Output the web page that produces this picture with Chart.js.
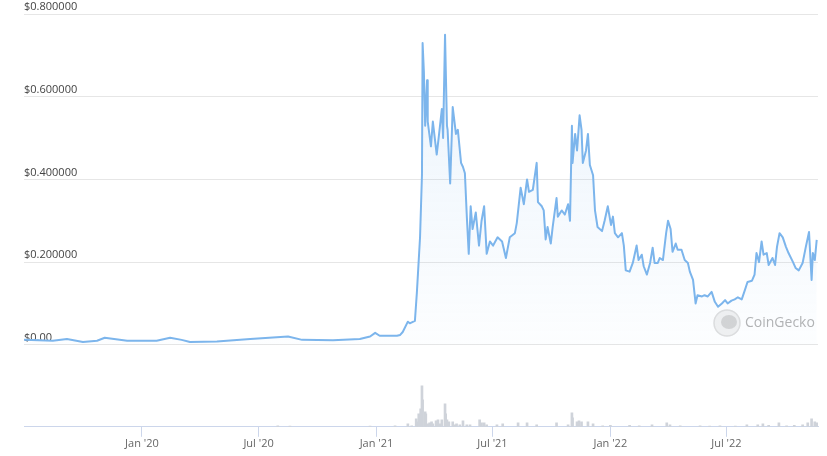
<!DOCTYPE html>
<html>
<head>
<meta charset="utf-8">
<script src="https://cdn.jsdelivr.net/npm/chart.js@4.4.1/dist/chart.umd.min.js"></script>
<style>
  html, body { margin: 0; padding: 0; background: #fff; }
  #wrap { width: 827px; height: 456px; }
</style>
</head>
<body>
<div id="wrap"><canvas id="priceChart"></canvas></div>
<script>
// Price (USD)
const priceDates = [
  '2019-07-01', '2019-08-15', '2019-09-06', '2019-10-01', '2019-10-23', '2019-11-04', '2019-12-09',
  '2020-01-24', '2020-02-14', '2020-03-03', '2020-03-16', '2020-04-27', '2020-06-18', '2020-08-16',
  '2020-09-07', '2020-10-25', '2020-12-06', '2020-12-22', '2020-12-30',
  '2021-01-06', '2021-02-02', '2021-02-07', '2021-02-11', '2021-02-19', '2021-02-22', '2021-03-02',
  '2021-03-05', '2021-03-10', '2021-03-13', '2021-03-14', '2021-03-16', '2021-03-18', '2021-03-21',
  '2021-03-22', '2021-03-27', '2021-03-30', '2021-04-05', '2021-04-08', '2021-04-13', '2021-04-15',
  '2021-04-18', '2021-04-21', '2021-04-22', '2021-04-26', '2021-04-30', '2021-05-05', '2021-05-08',
  '2021-05-13', '2021-05-16', '2021-05-19', '2021-05-22', '2021-05-25', '2021-05-28', '2021-05-31',
  '2021-06-05', '2021-06-10', '2021-06-14', '2021-06-18', '2021-06-22', '2021-06-27', '2021-07-02',
  '2021-07-09', '2021-07-16', '2021-07-22', '2021-07-28', '2021-08-05', '2021-08-08', '2021-08-14',
  '2021-08-19', '2021-08-24', '2021-08-27', '2021-09-02', '2021-09-08', '2021-09-10', '2021-09-16',
  '2021-09-19', '2021-09-22', '2021-09-25', '2021-09-30', '2021-10-03', '2021-10-09', '2021-10-11',
  '2021-10-17', '2021-10-22', '2021-10-27', '2021-10-30', '2021-11-02', '2021-11-03', '2021-11-07',
  '2021-11-10', '2021-11-14', '2021-11-17', '2021-11-19', '2021-11-24', '2021-11-27', '2021-11-30',
  '2021-12-05', '2021-12-08', '2021-12-12', '2021-12-19', '2021-12-23', '2021-12-28',
  '2022-01-02', '2022-01-05', '2022-01-08', '2022-01-13', '2022-01-19', '2022-01-22', '2022-01-25',
  '2022-01-31', '2022-02-05', '2022-02-11', '2022-02-14', '2022-02-19', '2022-02-22', '2022-02-27',
  '2022-03-04', '2022-03-08', '2022-03-11', '2022-03-16', '2022-03-19', '2022-03-24', '2022-03-29',
  '2022-04-01', '2022-04-05', '2022-04-08', '2022-04-13', '2022-04-16', '2022-04-22', '2022-04-27',
  '2022-05-02', '2022-05-05', '2022-05-10', '2022-05-14', '2022-05-17', '2022-05-24', '2022-05-28',
  '2022-06-02', '2022-06-08', '2022-06-13', '2022-06-18', '2022-06-24', '2022-06-29', '2022-07-03',
  '2022-07-09', '2022-07-14', '2022-07-19', '2022-07-25', '2022-07-30', '2022-08-03', '2022-08-10',
  '2022-08-14', '2022-08-17', '2022-08-21', '2022-08-25', '2022-08-28', '2022-09-02', '2022-09-05',
  '2022-09-11', '2022-09-15', '2022-09-18', '2022-09-22', '2022-09-27', '2022-10-02', '2022-10-06',
  '2022-10-13', '2022-10-17', '2022-10-22', '2022-10-28', '2022-11-02', '2022-11-07', '2022-11-11',
  '2022-11-13', '2022-11-16', '2022-11-19'
];
const prices = [
  0.012, 0.010, 0.014, 0.007, 0.010, 0.017, 0.010,
  0.010, 0.017, 0.012, 0.007, 0.008, 0.014, 0.020,
  0.012, 0.011, 0.014, 0.020, 0.029,
  0.022, 0.022, 0.024, 0.031, 0.056, 0.052, 0.058,
  0.125, 0.26, 0.41, 0.73, 0.66, 0.53, 0.64,
  0.54, 0.48, 0.54, 0.46, 0.50, 0.57, 0.50,
  0.75, 0.53, 0.52, 0.39, 0.575, 0.51, 0.52,
  0.44, 0.43, 0.415, 0.31, 0.22, 0.335, 0.28,
  0.32, 0.24, 0.30, 0.335, 0.22, 0.25, 0.24,
  0.26, 0.25, 0.21, 0.26, 0.27, 0.295, 0.38,
  0.34, 0.40, 0.37, 0.375, 0.44, 0.345, 0.335,
  0.325, 0.255, 0.285, 0.245, 0.285, 0.355, 0.31,
  0.325, 0.315, 0.34, 0.30, 0.53, 0.44, 0.51,
  0.47, 0.555, 0.52, 0.44, 0.47, 0.51, 0.435,
  0.41, 0.325, 0.285, 0.275, 0.30, 0.335,
  0.29, 0.31, 0.27, 0.26, 0.27, 0.24, 0.18,
  0.177, 0.198, 0.24, 0.205, 0.218, 0.19, 0.17,
  0.198, 0.235, 0.198, 0.198, 0.21, 0.205, 0.27,
  0.30, 0.28, 0.225, 0.245, 0.23, 0.23, 0.205,
  0.198, 0.177, 0.157, 0.10, 0.12, 0.117, 0.12,
  0.117, 0.128, 0.104, 0.092, 0.10, 0.108, 0.10,
  0.107, 0.11, 0.115, 0.11, 0.133, 0.152, 0.155,
  0.17, 0.222, 0.20, 0.25, 0.218, 0.222, 0.193,
  0.21, 0.193, 0.237, 0.27, 0.26, 0.237, 0.222,
  0.20, 0.186, 0.18, 0.198, 0.237, 0.273, 0.157,
  0.222, 0.205, 0.254
];

// Trading volume (USD millions)
const volumeDates = [
  '2020-07-31', '2020-08-19', '2020-12-22', '2021-01-30', '2021-02-19', '2021-02-25', '2021-03-04',
  '2021-03-05', '2021-03-08', '2021-03-11', '2021-03-13', '2021-03-14', '2021-03-18', '2021-03-19',
  '2021-03-22', '2021-03-25', '2021-03-28', '2021-03-30', '2021-04-04', '2021-04-07', '2021-04-10',
  '2021-04-13', '2021-04-18', '2021-04-19', '2021-04-21', '2021-04-24', '2021-04-30', '2021-05-03',
  '2021-05-06', '2021-05-11', '2021-05-16', '2021-05-22', '2021-05-27', '2021-06-11', '2021-06-14',
  '2021-06-18', '2021-06-22', '2021-07-08', '2021-07-17', '2021-08-10', '2021-08-24', '2021-09-08',
  '2021-10-09', '2021-10-27', '2021-11-02', '2021-11-03', '2021-11-10', '2021-11-13', '2021-11-17',
  '2021-11-27', '2021-12-05', '2021-12-20', '2022-01-01', '2022-01-31', '2022-02-15', '2022-03-07',
  '2022-03-30', '2022-04-04', '2022-04-20', '2022-05-21', '2022-06-05', '2022-06-21', '2022-07-15',
  '2022-08-02', '2022-08-19', '2022-08-27', '2022-09-05', '2022-09-21', '2022-10-03', '2022-10-15',
  '2022-10-28', '2022-11-05', '2022-11-11', '2022-11-16', '2022-11-19'
];
const volumes = [
  10, 8, 8, 10, 30, 10, 80,
  50, 130, 180, 410, 270, 150, 130,
  30, 40, 50, 30, 60, 70, 30,
  70, 230, 130, 70, 50, 50, 20,
  30, 20, 60, 20, 20, 70, 40,
  40, 20, 20, 30, 40, 40, 20,
  40, 20, 140, 90, 50, 60, 50,
  50, 30, 10, 15, 15, 10, 20,
  40, 20, 10, 10, 8, 10, 8,
  20, 20, 30, 15, 40, 10, 15,
  20, 40, 80, 50, 40
];

const tickDates = ['2020-01-01', '2020-07-01', '2021-01-01', '2021-07-01', '2022-01-01', '2022-07-01'];
const tickLabels = ["Jan '20", "Jul '20", "Jan '21", "Jul '21", "Jan '22", "Jul '22"];
const priceTicks = [0, 0.2, 0.4, 0.6, 0.8];

const FONT = '"Segoe UI", "Open Sans", "Noto Sans", sans-serif';

// CoinGecko mark in the lower right corner
const watermark = {
  id: 'watermark',
  beforeDatasetsDraw(chart) {
    const ctx = chart.ctx;
    ctx.save();
    ctx.beginPath();
    ctx.arc(727, 323, 13, 0, Math.PI * 2);
    ctx.fillStyle = '#f1f1f1';
    ctx.fill();
    ctx.lineWidth = 1.5;
    ctx.strokeStyle = '#dedede';
    ctx.stroke();
    ctx.beginPath();
    ctx.ellipse(729, 322, 8, 7, 0, 0, Math.PI * 2);
    ctx.fillStyle = '#d4d4d4';
    ctx.fill();
    ctx.fillStyle = '#b3b3b3';
    ctx.font = '14px ' + FONT;
    ctx.textBaseline = 'middle';
    ctx.fillText('CoinGecko', 745, 323);
    ctx.restore();
  }
};

const ctx = document.getElementById('priceChart').getContext('2d');
const chart = new Chart(ctx, {
  type: 'line',
  data: {
    datasets: [
      {
        label: 'Price',
        data: priceDates.map((d, i) => ({ x: Date.parse(d), y: prices[i] })),
        yAxisID: 'y',
        borderColor: '#7cb5ec',
        borderWidth: 2,
        pointRadius: 0,
        tension: 0,
        borderJoinStyle: 'round',
        fill: 'origin',
        backgroundColor: (c) => {
          const area = c.chart.chartArea;
          if (!area) return 'rgba(124,181,236,0.08)';
          const g = c.chart.ctx.createLinearGradient(0, area.top, 0, 345);
          g.addColorStop(0, 'rgba(124,181,236,0.16)');
          g.addColorStop(1, 'rgba(124,181,236,0.02)');
          return g;
        },
        order: 0
      },
      {
        type: 'bar',
        label: 'Volume',
        data: volumeDates.map((d, i) => ({ x: Date.parse(d), y: volumes[i] })),
        yAxisID: 'yVol',
        backgroundColor: '#cfd3da',
        barThickness: 2,
        order: 1
      }
    ]
  },
  options: {
    responsive: true,
    maintainAspectRatio: false,
    animation: false,
    layout: { padding: { left: 24, right: 9, top: 14, bottom: 6 } },
    plugins: { legend: { display: false }, tooltip: { enabled: false } },
    scales: {
      x: {
        type: 'linear',
        min: Date.parse('2019-07-01'),
        max: Date.parse('2022-11-21'),
        offset: false,
        afterBuildTicks: (scale) => {
          scale.ticks = tickDates.map(d => ({ value: Date.parse(d) }));
        },
        grid: { display: true, drawOnChartArea: false, drawTicks: true, tickLength: 10, color: '#ccd6eb', offset: false },
        border: { display: true, color: '#ccd6eb', width: 1 },
        ticks: {
          autoSkip: false,
          maxRotation: 0,
          padding: 0,
          color: '#666',
          font: { family: FONT, size: 11 },
          callback: (v, i) => tickLabels[i]
        }
      },
      y: {
        min: -0.1982,
        max: 0.8,
        afterBuildTicks: (scale) => {
          scale.ticks = priceTicks.map(v => ({ value: v }));
        },
        grid: { color: '#e6e6e6', drawTicks: false },
        border: { display: false },
        ticks: {
          mirror: true,
          padding: 0,
          labelOffset: -7,
          color: '#444',
          font: { family: FONT, size: 11 },
          callback: (v) => v === 0 ? '$0.00' : '$' + v.toFixed(6)
        }
      },
      yVol: {
        display: false,
        min: 0,
        max: 4130
      }
    }
  },
  plugins: [watermark]
});
</script>
</body>
</html>
